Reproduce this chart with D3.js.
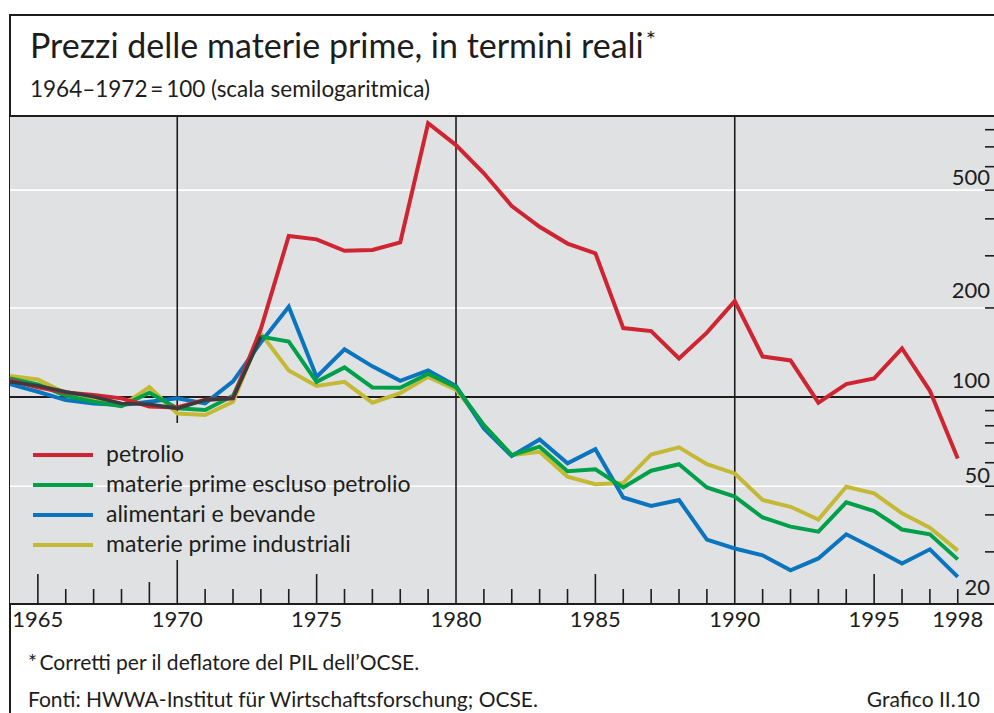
<!DOCTYPE html>
<html>
<head>
<meta charset="utf-8">
<script src="https://cdn.jsdelivr.net/npm/d3@7"></script>
<style>
  html, body { margin: 0; padding: 0; background: #fff; }
  svg { display: block; font-family: Lato, "Open Sans", sans-serif; }
</style>
</head>
<body>
<svg id="chart" width="994" height="713"></svg>
<script>
// ---------- data ----------
const years = [1964,1965,1966,1967,1968,1969,1970,1971,1972,1973,1974,1975,1976,1977,1978,1979,1980,
               1981,1982,1983,1984,1985,1986,1987,1988,1989,1990,1991,1992,1993,1994,1995,1996,1997,1998];
const petrolio = [114,108,103.7,101.6,99,93,92.3,98,99,170,350,341,312,314,333,841,710,
                  570,442,376,330,306,171,167,135,165,211,137,133,95.7,110.6,115.6,146,105,62];
const materieEsclPetrolio = [115.6,110.4,101,96.4,93.2,103.4,91.6,90.4,101,160,154,112.6,126,107.8,107.5,120,108,
                  80.4,63.7,68,56.2,57,49.5,56.4,59.3,49.5,46.1,39.2,36.5,35.1,44.1,41.2,35.7,34.4,28.3];
const alimentariBevande = [110.6,104.2,97.7,95.2,94,96.4,99,95.2,113,153,202,117,145,127,113.5,123,109,
                  78.4,63.2,71.9,59.7,66.7,45.8,42.9,44.9,33.0,30.8,29.2,26.0,28.5,34.4,30.8,27.4,30.6,24.7];
const materieIndustriali = [117.8,114.7,103,97.7,93.2,108,88,87,96.4,164,123,109,112.6,95.7,103,117,106,
                  80.4,63.7,65.3,53.8,50.8,51.3,64.0,67.6,59.3,55.2,44.9,42.6,38.6,49.8,47.3,40.5,36.2,30.3];
// unlabelled dark overprint visible in the reference, 1964-1973
const scuroYears = [1964,1965,1966,1967,1968,1969,1970,1971,1972,1973];
const scuro = [112.6,109.2,104.2,100.2,95.2,94.5,91.6,97.7,99,160];

const seriesNames = ["petrolio","materie prime escluso petrolio","alimentari e bevande","materie prime industriali"];
const seriesColors = ["#cf2431","#00a04b","#0a74bf","#c4b935"];
const seriesValues = [petrolio, materieEsclPetrolio, alimentariBevande, materieIndustriali];
const drawOrder = [3, 2, 1, 0]; // industriali, alimentari, escluso petrolio, petrolio

const yTickLabels = [20, 50, 100, 200, 500];
const yMinorTicks = [30, 40, 50, 60, 70, 80, 90, 200, 300, 400, 500, 600, 700, 800];
const whiteGrid = [50, 200, 500];
const xLabelYears = [1965, 1970, 1975, 1980, 1985, 1990, 1995, 1998];
const xTickYears = d3.range(1965, 1999);
const fullLineYears = [1970, 1980, 1990];
const longTickYears = [1965, 1975, 1985, 1995];
const midTickYears = [1969];

const title = "Prezzi delle materie prime, in termini reali";
const subtitle = "1964\u20131972\u2009=\u2009100 (scala semilogaritmica)";
const note = "*\u2009Corretti per il deflatore del PIL dell\u2019OCSE.";
const source = "Fonti: HWWA-Institut f\u00fcr Wirtschaftsforschung; OCSE.";
const chartId = "Grafico II.10";

// ---------- layout ----------
const svg = d3.select("#chart");
const plot = { left: 10, right: 994, top: 116, bottom: 604 };
const x = d3.scaleLinear().domain([1964, 1999.3]).range([plot.left, plot.right]);
const y = d3.scaleLog().domain([20, 890]).range([plot.bottom, plot.top]);
const ink = "#1d1d1b";

// outer frame
svg.append("path")
  .attr("d", `M10,713 L10,15 L994,15`)
  .attr("fill", "none").attr("stroke", ink).attr("stroke-width", 2);

// titles
const t = svg.append("text").attr("x", 30).attr("y", 58)
  .attr("font-size", 34).attr("fill", ink).text(title);
t.append("tspan").attr("font-size", 24).attr("dy", -10).attr("dx", 2).text("*");
svg.append("text").attr("x", 30).attr("y", 97).attr("font-size", 22.5)
  .attr("fill", ink).text(subtitle);

// plot background
svg.append("rect").attr("x", plot.left).attr("y", plot.top)
  .attr("width", plot.right - plot.left).attr("height", plot.bottom - plot.top)
  .attr("fill", "#e0e1e3");

// white gridlines
svg.append("g").selectAll("line").data(whiteGrid).join("line")
  .attr("x1", plot.left).attr("x2", plot.right)
  .attr("y1", d => y(d)).attr("y2", d => y(d))
  .attr("stroke", "#ffffff").attr("stroke-width", 1.6);

// legend geometry (for the gap in the 1970 line)
const legend = { x1: 33, x2: 93, textX: 106, y0: 455, step: 30 };
const legendTop = 423, legendBottom = 560;

// vertical year lines
fullLineYears.forEach(yr => {
  const xx = x(yr);
  if (yr === 1970) {
    svg.append("line").attr("x1", xx).attr("x2", xx).attr("y1", plot.top).attr("y2", legendTop)
      .attr("stroke", ink).attr("stroke-width", 1.6);
    svg.append("line").attr("x1", xx).attr("x2", xx).attr("y1", legendBottom).attr("y2", plot.bottom)
      .attr("stroke", ink).attr("stroke-width", 1.6);
  } else {
    svg.append("line").attr("x1", xx).attr("x2", xx).attr("y1", plot.top).attr("y2", plot.bottom)
      .attr("stroke", ink).attr("stroke-width", 1.6);
  }
});

// 100 reference line
svg.append("line").attr("x1", plot.left).attr("x2", plot.right)
  .attr("y1", y(100)).attr("y2", y(100)).attr("stroke", ink).attr("stroke-width", 2);

// x axis (bottom) with custom tick lengths
const xTicks = xTickYears.filter(d => !fullLineYears.includes(d));
const xAxisG = svg.append("g").attr("transform", `translate(0,${plot.bottom})`);
xAxisG.selectAll("line.tick").data(xTicks).join("line").attr("class", "tick")
  .attr("x1", d => x(d)).attr("x2", d => x(d)).attr("y1", 0)
  .attr("y2", d => longTickYears.includes(d) ? -30 : midTickYears.includes(d) ? -22 : -15)
  .attr("stroke", ink).attr("stroke-width", 1.6);
xAxisG.selectAll("text").data(xLabelYears).join("text")
  .attr("x", d => x(d)).attr("y", 23).attr("text-anchor", "middle")
  .attr("font-size", 22).attr("fill", ink).text(d => d);

// y axis (right) minor ticks and labels
const yAxisG = svg.append("g");
yAxisG.selectAll("line").data(yMinorTicks).join("line")
  .attr("x1", plot.right - 9).attr("x2", plot.right)
  .attr("y1", d => y(d)).attr("y2", d => y(d))
  .attr("stroke", ink).attr("stroke-width", 1.6);
const labelOffset = { 20: 9, 50: 3, 100: 9, 200: 10, 500: 5 };
yAxisG.selectAll("text").data(yTickLabels).join("text")
  .attr("x", 990).attr("y", d => y(d) - labelOffset[d])
  .attr("text-anchor", "end").attr("font-size", 22).attr("fill", ink).text(d => d);

// plot top and bottom borders
svg.append("line").attr("x1", plot.left).attr("x2", plot.right).attr("y1", plot.top).attr("y2", plot.top)
  .attr("stroke", ink).attr("stroke-width", 2);
svg.append("line").attr("x1", plot.left).attr("x2", plot.right).attr("y1", plot.bottom).attr("y2", plot.bottom)
  .attr("stroke", ink).attr("stroke-width", 2);

// series
const line = d3.line().x(d => x(d[0])).y(d => y(d[1]));
const linesG = svg.append("g");
drawOrder.forEach(i => {
  linesG.append("path")
    .datum(years.map((yr, j) => [yr, seriesValues[i][j]]))
    .attr("d", line).attr("fill", "none")
    .attr("stroke", seriesColors[i]).attr("stroke-width", 4)
    .attr("stroke-linejoin", "miter").attr("stroke-miterlimit", 3);
});
linesG.append("path")
  .datum(scuroYears.map((yr, j) => [yr, scuro[j]]))
  .attr("d", line).attr("fill", "none")
  .attr("stroke", "#3b3b3d").attr("stroke-width", 3.5).attr("stroke-linejoin", "miter");

// legend
const lg = svg.append("g");
seriesNames.forEach((name, i) => {
  const ly = legend.y0 + i * legend.step;
  lg.append("line").attr("x1", legend.x1).attr("x2", legend.x2).attr("y1", ly).attr("y2", ly)
    .attr("stroke", seriesColors[i]).attr("stroke-width", 4);
  lg.append("text").attr("x", legend.textX).attr("y", ly + 7)
    .attr("font-size", 23).attr("fill", ink).text(name);
});

// footnotes
svg.append("text").attr("x", 28).attr("y", 670).attr("font-size", 21).attr("fill", ink).text(note);
svg.append("text").attr("x", 28).attr("y", 707).attr("font-size", 21).attr("fill", ink).text(source);
svg.append("text").attr("x", 980).attr("y", 707).attr("text-anchor", "end")
  .attr("font-size", 21).attr("fill", ink).text(chartId);
</script>
</body>
</html>
